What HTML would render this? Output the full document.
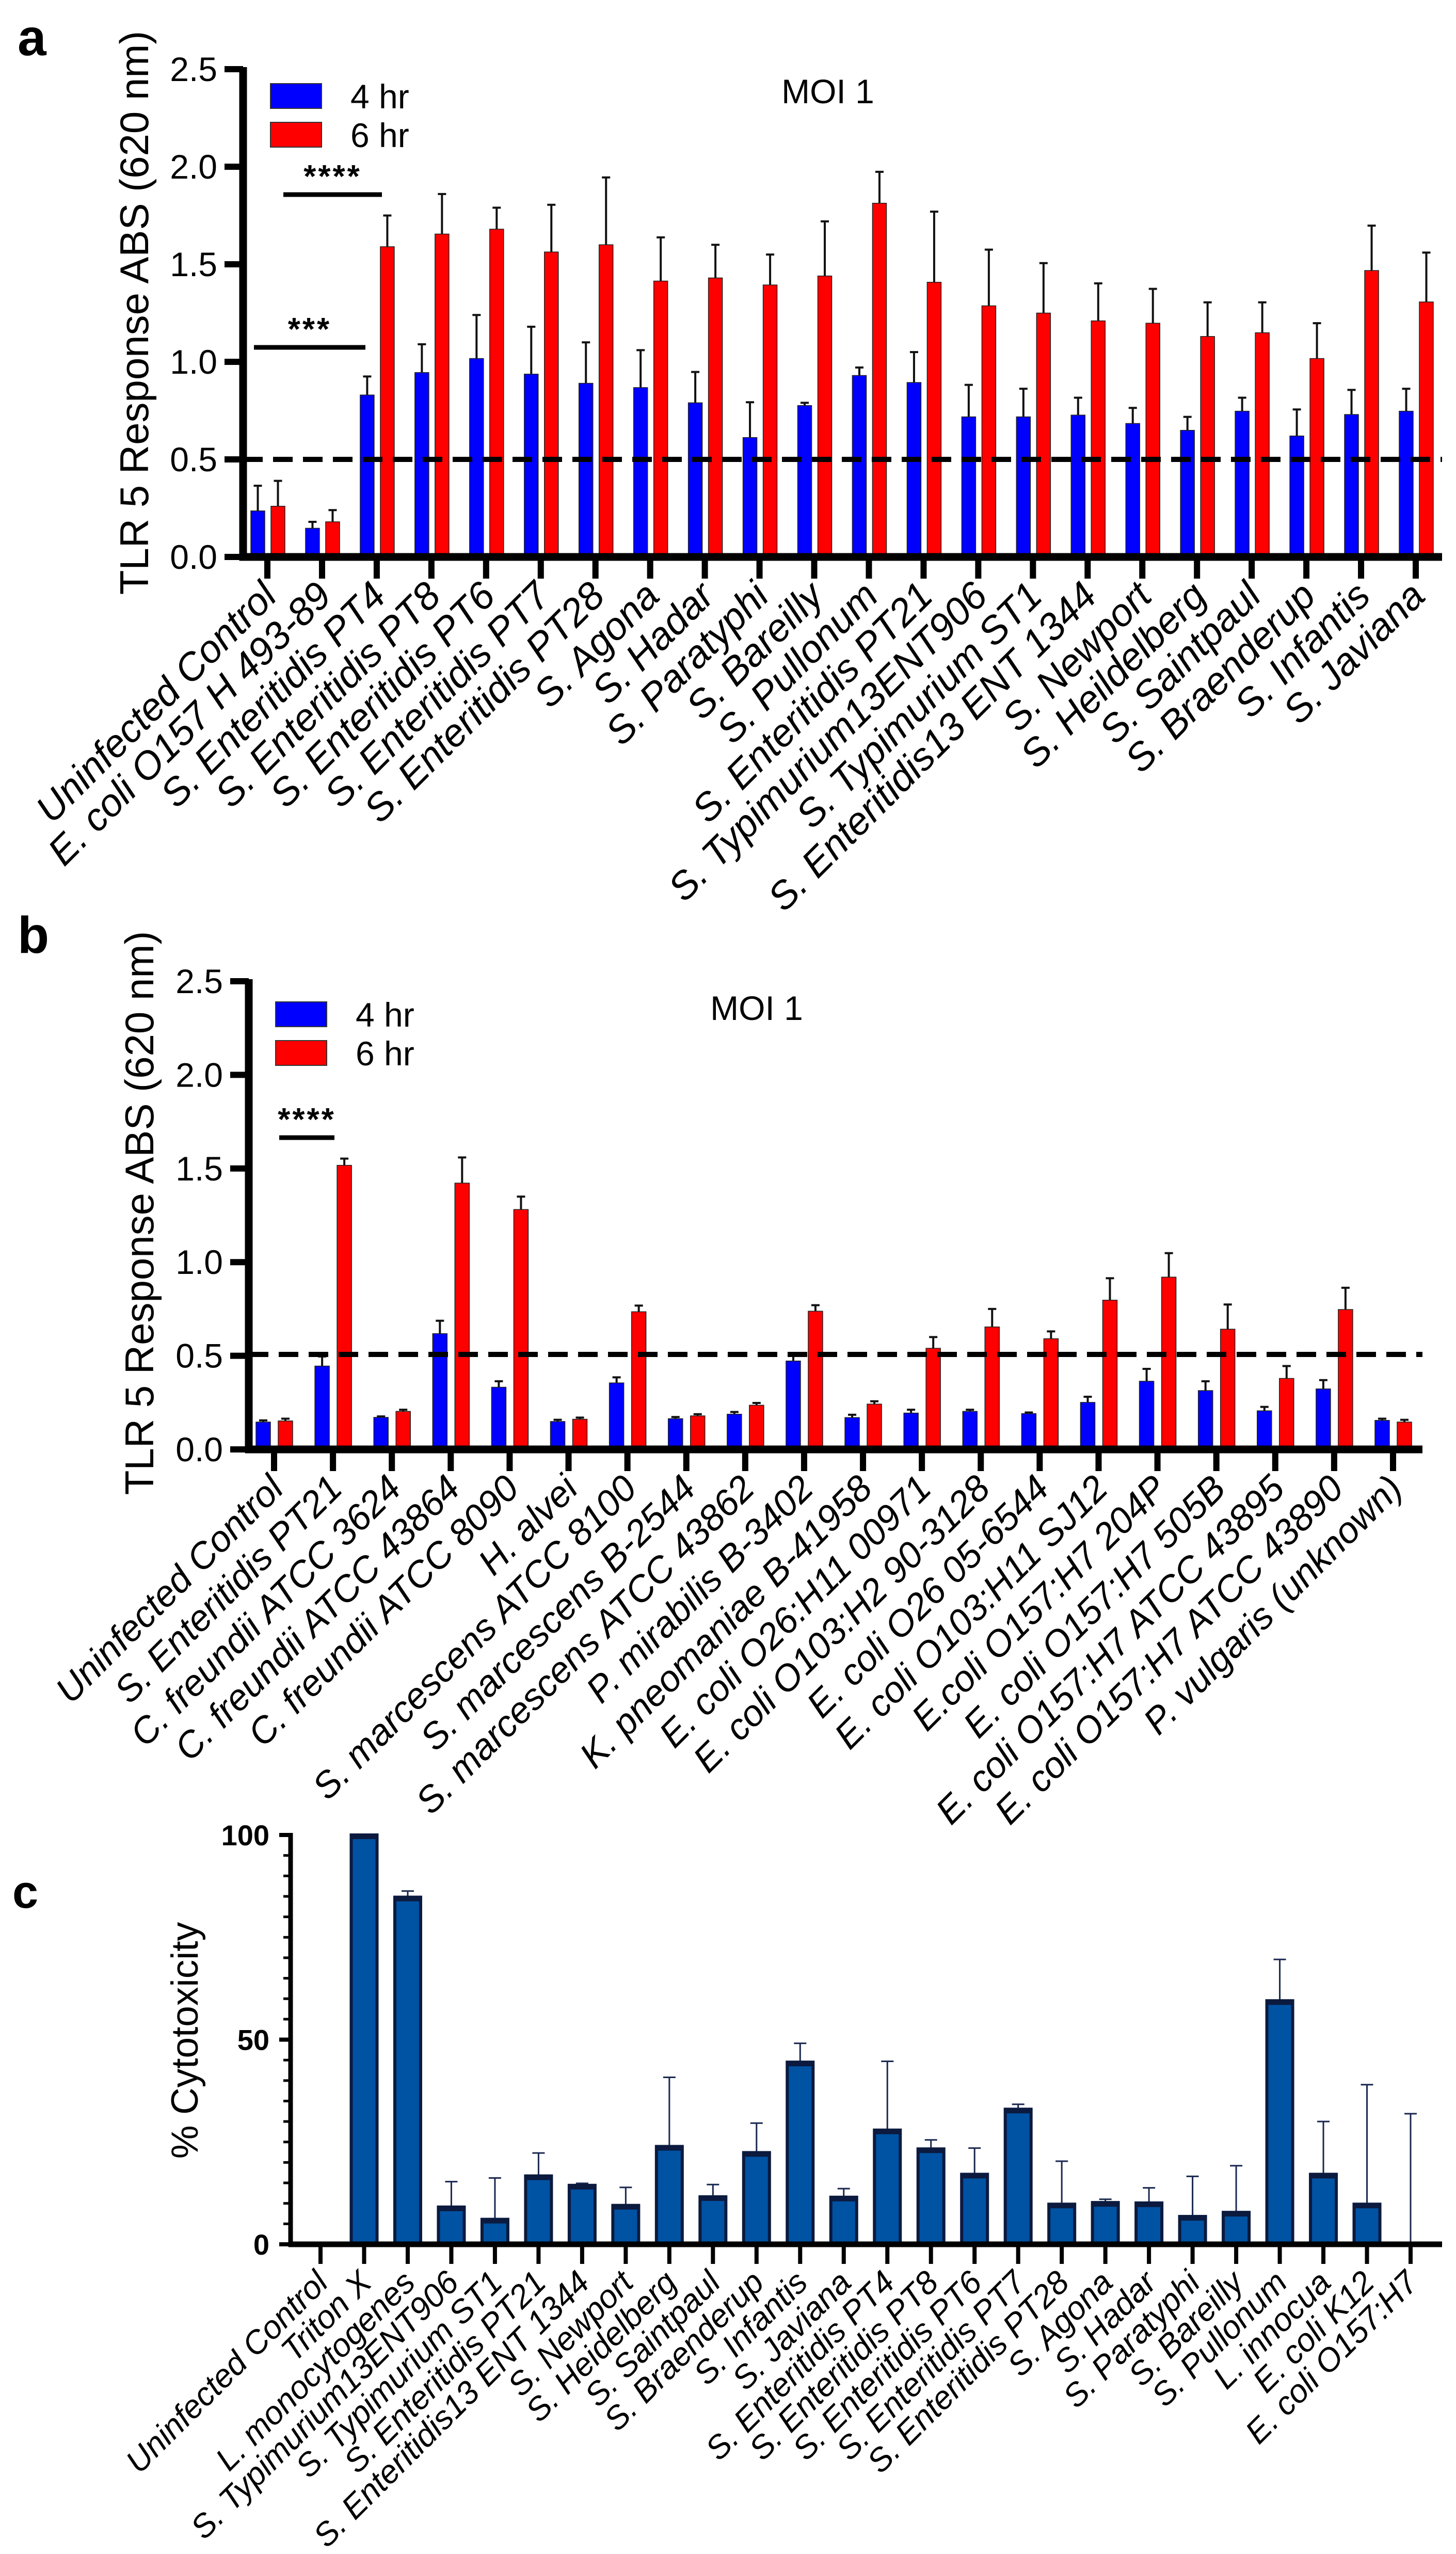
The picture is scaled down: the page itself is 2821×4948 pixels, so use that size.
<!DOCTYPE html>
<html><head><meta charset="utf-8">
<style>
html,body{margin:0;padding:0;background:#fff;}
svg{display:block;font-family:"Liberation Sans",Arial,sans-serif;}
</style></head>
<body>
<svg id="fig" width="2821" height="4948" viewBox="0 0 2821 4948" xmlns="http://www.w3.org/2000/svg">
<rect x="0" y="0" width="2821" height="4948" fill="#fff"/>
<text x="34" y="107" font-size="100" font-weight="bold">a</text>
<text x="34" y="1846" font-size="100" font-weight="bold">b</text>
<text x="24" y="3696" font-size="90" font-weight="bold">c</text>
<g id="pa"></g>
<g id="pb"></g>
<g id="pc"></g>
</svg>
<script>
// ---------- Panel a data ----------
const aCategories = ["Uninfected Control","E. coli O157 H 493-89","S. Enteritidis PT4","S. Enteritidis PT8","S. Enteritidis PT6","S. Enteritidis PT7","S. Enteritidis PT28","S. Agona","S. Hadar","S. Paratyphi","S. Bareilly","S. Pullonum","S. Enteritidis PT21","S. Typimurium13ENT906","S. Typimurium ST1","S. Enteritidis13 ENT 1344","S. Newport","S. Heildelberg","S. Saintpaul","S. Braenderup","S. Infantis","S. Javiana"];
const a4hr = [0.236,0.147,0.83,0.945,1.017,0.937,0.89,0.868,0.79,0.612,0.776,0.93,0.894,0.718,0.718,0.727,0.684,0.649,0.747,0.62,0.73,0.747];
const a4hrErr = [0.129,0.033,0.095,0.145,0.223,0.243,0.21,0.192,0.158,0.181,0.014,0.041,0.156,0.164,0.144,0.089,0.08,0.069,0.069,0.136,0.126,0.115];
const a6hr = [0.26,0.18,1.59,1.655,1.68,1.563,1.6,1.414,1.43,1.394,1.44,1.813,1.408,1.287,1.25,1.21,1.198,1.13,1.149,1.017,1.468,1.307];
const a6hrErr = [0.13,0.06,0.16,0.205,0.11,0.242,0.345,0.224,0.17,0.156,0.28,0.161,0.362,0.288,0.256,0.192,0.176,0.175,0.156,0.181,0.23,0.253];
const aTicks = [0,0.5,1.0,1.5,2.0,2.5];
const aTickLabels = ["0.0","0.5","1.0","1.5","2.0","2.5"];
const aThreshold = 0.5;

// ---------- Panel b data ----------
const bCategories = ["Uninfected Control","S. Enteritidis PT21","C. freundii ATCC 3624","C. freundii ATCC 43864","C. freundii ATCC 8090","H. alvei","S. marcescens ATCC 8100","S. marcescens B-2544","S. marcescens ATCC 43862","P. mirabilis B-3402","K. pneomaniae B-41958","E. coli O26:H11 00971","E. coli O103:H2 90-3128","E. coli O26 05-6544","E. coli O103:H11 SJ12","E.coli O157:H7 204P","E. coli O157:H7 505B","E. coli O157:H7 ATCC 43895","E. coli O157:H7 ATCC 43890","P. vulgaris (unknown)"];
const b4hr = [0.146,0.445,0.171,0.618,0.332,0.149,0.355,0.164,0.188,0.472,0.17,0.194,0.203,0.191,0.251,0.364,0.314,0.206,0.323,0.155];
const b4hrErr = [0.009,0.051,0.005,0.069,0.032,0.009,0.03,0.009,0.012,0.036,0.015,0.018,0.009,0.006,0.03,0.066,0.05,0.021,0.047,0.009];
const b6hr = [0.152,1.517,0.203,1.422,1.281,0.161,0.735,0.179,0.236,0.738,0.242,0.54,0.654,0.591,0.797,0.92,0.642,0.379,0.747,0.146];
const b6hrErr = [0.012,0.036,0.009,0.137,0.069,0.009,0.033,0.009,0.012,0.032,0.015,0.06,0.096,0.039,0.117,0.128,0.132,0.066,0.116,0.012];
const bTicks = [0,0.5,1.0,1.5,2.0,2.5];
const bTickLabels = ["0.0","0.5","1.0","1.5","2.0","2.5"];
const bThreshold = 0.507;

// ---------- Panel c data ----------
const cCategories = ["Uninfected Control","Triton X","L. monocytogenes","S. Typimurium13ENT906","S. Typimurium ST1","S. Enteritidis PT21","S. Enteritidis13 ENT 1344","S. Newport","S. Heidelberg","S. Saintpaul","S. Braenderup","S. Infantis","S. Javiana","S. Enteritidis PT4","S. Enteritidis PT8","S. Enteritidis PT6","S. Enteritidis PT7","S. Enteritidis PT28","S. Agona","S. Hadar","S. Paratyphi","S. Bareilly","S. Pullonum","L. innocua","E. coli K12","E. coli O157:H7"];
const cValues = [0,100,84.8,9.1,6.1,16.7,14.4,9.5,23.9,11.6,22.4,44.5,11.5,27.9,23.3,17.1,33.0,9.8,10.2,10.1,6.8,7.8,59.5,17.1,9.8,0];
const cErr = [0,0,1.5,6.2,10.1,5.6,0.5,4.4,16.9,3.0,7.2,4.6,2.1,16.8,2.2,6.4,1.2,10.5,0.8,3.7,9.8,11.4,10.1,12.9,29.2,31.9];
const cTicks = [0,50,100];
const cTickLabels = ["0","50","100"];

const NS = "http://www.w3.org/2000/svg";
function mk(parent, tag, attrs){
  const e = document.createElementNS(NS, tag);
  for (const k in attrs) e.setAttribute(k, attrs[k]);
  parent.appendChild(e);
  return e;
}

function groupedPanel(g, P, cats, v1, e1, v2, e2, ticks, tickLabels, thr, title){
  const y = v => P.y0 - (v - 0) * (P.y0 - P.yTop) / 2.5;
  const xt = i => P.x0 + i * (P.x1 - P.x0) / (cats.length - 1);
  // bars
  for (let i = 0; i < cats.length; i++){
    const series = [[v1[i], e1[i], "#0000ff", P.bOff, "blue"], [v2[i], e2[i], "#ff0000", P.rOff, "red"]];
    for (const s of series){
      const bx = xt(i) + s[3];
      const top = y(s[0]);
      const el = mk(g, "line", {x1: bx + P.bw/2, x2: bx + P.bw/2, y1: top, y2: y(s[0] + s[1]), stroke: "#111", "stroke-width": 4});
      
      
      const cap = mk(g, "line", {x1: bx + P.bw/2 - 8, x2: bx + P.bw/2 + 8, y1: y(s[0] + s[1]), y2: y(s[0] + s[1]), stroke: "#111", "stroke-width": 4});
      
      
      const r = mk(g, "rect", {x: bx, y: top, width: P.bw, height: P.y0 - top, fill: s[2], stroke: "#222", "stroke-width": 1.5});
      
      
    }
  }
  // threshold
  const d = mk(g, "line", {x1: P.ax, x2: P.xEnd, y1: y(thr), y2: y(thr), stroke: "#000", "stroke-width": 10, "stroke-dasharray": "38 20"});
  
  
  // axes
  const ya = mk(g, "line", {x1: P.ax, x2: P.ax, y1: P.yTop - 4, y2: P.y0 + 7, stroke: "#000", "stroke-width": 15});
  
  
  const xa = mk(g, "line", {x1: P.ax - 7, x2: P.xEnd, y1: P.y0, y2: P.y0, stroke: "#000", "stroke-width": 15});
  
  
  for (let k = 0; k < ticks.length; k++){
    const ty = y(ticks[k]);
    const t = mk(g, "line", {x1: P.ax - 36, x2: P.ax, y1: ty, y2: ty, stroke: "#000", "stroke-width": 12});
    
    
    const tl = mk(g, "text", {x: P.ax - 50, y: ty + 23, "font-size": 66, "text-anchor": "end"});
    tl.textContent = tickLabels[k];
    
    
  }
  for (let i = 0; i < cats.length; i++){
    const t = mk(g, "line", {x1: xt(i), x2: xt(i), y1: P.y0, y2: P.y0 + 42, stroke: "#000", "stroke-width": 12});
    
    
    const lx = xt(i) + 22, ly = P.y0 + 80;
    const tl = mk(g, "text", {x: 0, y: 0, "font-size": P.lf, "font-style": "italic", "text-anchor": "end", transform: "translate(" + lx + "," + ly + ") rotate(-45)"});
    tl.textContent = cats[i];
    
    
  }
  // y title
  const yt = mk(g, "text", {x: 0, y: 0, "font-size": 78, "text-anchor": "middle", transform: "translate(" + P.titleX + "," + P.titleY + ") rotate(-90)"});
  yt.textContent = "TLR 5 Response ABS (620 nm)";
  
  
  // legend
  const lb = mk(g, "rect", {x: P.legX, y: P.legY, width: 99, height: 48, fill: "#0000ff", stroke: "#333", "stroke-width": 2});
  
  
  const lr = mk(g, "rect", {x: P.legX, y: P.legY + 75, width: 99, height: 48, fill: "#ff0000", stroke: "#333", "stroke-width": 2});
  
  
  const l1 = mk(g, "text", {x: P.legX + 155, y: P.legY + 48, "font-size": 66});
  l1.textContent = "4 hr";
  
  
  const l2 = mk(g, "text", {x: P.legX + 155, y: P.legY + 123, "font-size": 66});
  l2.textContent = "6 hr";
  
  
  const mt = mk(g, "text", {x: P.moiX, y: P.moiY, "font-size": 66, "text-anchor": "middle"});
  mt.textContent = title;
  
  
  return y;
}

function sig(g, x1, x2, yy, stars){
  const l = mk(g, "line", {x1: x1, x2: x2, y1: yy, y2: yy, stroke: "#000", "stroke-width": 9});
  
  
  const t = mk(g, "text", {x: (x1 + x2) / 2, y: yy - 14, "font-size": 62, "font-weight": "bold", "text-anchor": "middle", "letter-spacing": "4"});
  t.textContent = stars;
  
  
}

const PA = {ax: 471, y0: 1079, yTop: 134, x0: 518, x1: 2743, xEnd: 2794, bw: 27, bOff: -32, rOff: 7, lf: 75, titleX: 287, titleY: 606, legX: 524, legY: 162, moiX: 1604, moiY: 200};
const ya = groupedPanel(document.getElementById("pa"), PA, aCategories, a4hr, a4hrErr, a6hr, a6hrErr, aTicks, aTickLabels, aThreshold, "MOI 1");
sig(document.getElementById("pa"), 492, 708, 673, "***");
sig(document.getElementById("pa"), 549, 740, 377, "****");

const PB = {ax: 482, y0: 2808, yTop: 1901, x0: 531, x1: 2699, xEnd: 2756, bw: 28, bOff: -35, rOff: 8, lf: 71, titleX: 297, titleY: 2350, legX: 534, legY: 1941, moiX: 1466, moiY: 1976};
const yb = groupedPanel(document.getElementById("pb"), PB, bCategories, b4hr, b4hrErr, b6hr, b6hrErr, bTicks, bTickLabels, bThreshold, "MOI 1");
sig(document.getElementById("pb"), 541, 648, 2204, "****");

// ---------- Panel c ----------
(function(){
  const g = document.getElementById("pc");
  const ax = 563, y0 = 4348, yTop = 3555, x0 = 621, x1 = 2733, xEnd = 2794, bw = 50;
  const y = v => y0 - v * (y0 - yTop) / 100;
  const xt = i => x0 + i * (x1 - x0) / (cCategories.length - 1);
  for (let i = 0; i < cCategories.length; i++){
    const cx = xt(i);
    if (cErr[i] > 0){
      const el = mk(g, "line", {x1: cx, x2: cx, y1: y(cValues[i]), y2: y(cValues[i] + cErr[i]), stroke: "#1a2850", "stroke-width": 3});
      
      
      const cap = mk(g, "line", {x1: cx - 12, x2: cx + 12, y1: y(cValues[i] + cErr[i]), y2: y(cValues[i] + cErr[i]), stroke: "#1a2850", "stroke-width": 3});
      
      
    }
    if (cValues[i] > 0){
      const r = mk(g, "rect", {x: cx - bw/2, y: y(cValues[i]), width: bw, height: y0 - y(cValues[i]), fill: "#0052a3", stroke: "#0b1a3e", "stroke-width": 6});
      
      
      const tb = mk(g, "rect", {x: cx - bw/2, y: y(cValues[i]), width: bw, height: 8, fill: "#0b1a3e"});
      
      
    }
    const t = mk(g, "line", {x1: cx, x2: cx, y1: y0, y2: y0 + 38, stroke: "#000", "stroke-width": 8});
    
    
    const tl = mk(g, "text", {x: 0, y: 0, "font-size": 63, "font-style": "italic", "text-anchor": "end", transform: "translate(" + (cx + 18) + "," + (y0 + 78) + ") rotate(-45)"});
    tl.textContent = cCategories[i];
    
    
  }
  for (let v = 5; v < 100; v += 5){
    if (v === 50) continue;
    const m = mk(g, "line", {x1: ax - 14, x2: ax, y1: y(v), y2: y(v), stroke: "#000", "stroke-width": 5});
    
    
  }
  for (let k = 0; k < cTicks.length; k++){
    const m = mk(g, "line", {x1: ax - 22, x2: ax, y1: y(cTicks[k]), y2: y(cTicks[k]), stroke: "#000", "stroke-width": 8});
    
    
    const tl = mk(g, "text", {x: 522, y: y(cTicks[k]) + 20, "font-size": 56, "font-weight": "bold", "text-anchor": "end"});
    tl.textContent = cTickLabels[k];
    
    
  }
  const yaxis = mk(g, "line", {x1: ax, x2: ax, y1: yTop - 4, y2: y0 + 5, stroke: "#000", "stroke-width": 9});
  
  
  const xaxis = mk(g, "line", {x1: ax - 4, x2: xEnd, y1: y0, y2: y0, stroke: "#000", "stroke-width": 11});
  
  
  const yt = mk(g, "text", {x: 0, y: 0, "font-size": 73, "text-anchor": "middle", transform: "translate(383,3953) rotate(-90)"});
  yt.textContent = "% Cytotoxicity";
  
  
})();
</script>
</body></html>
